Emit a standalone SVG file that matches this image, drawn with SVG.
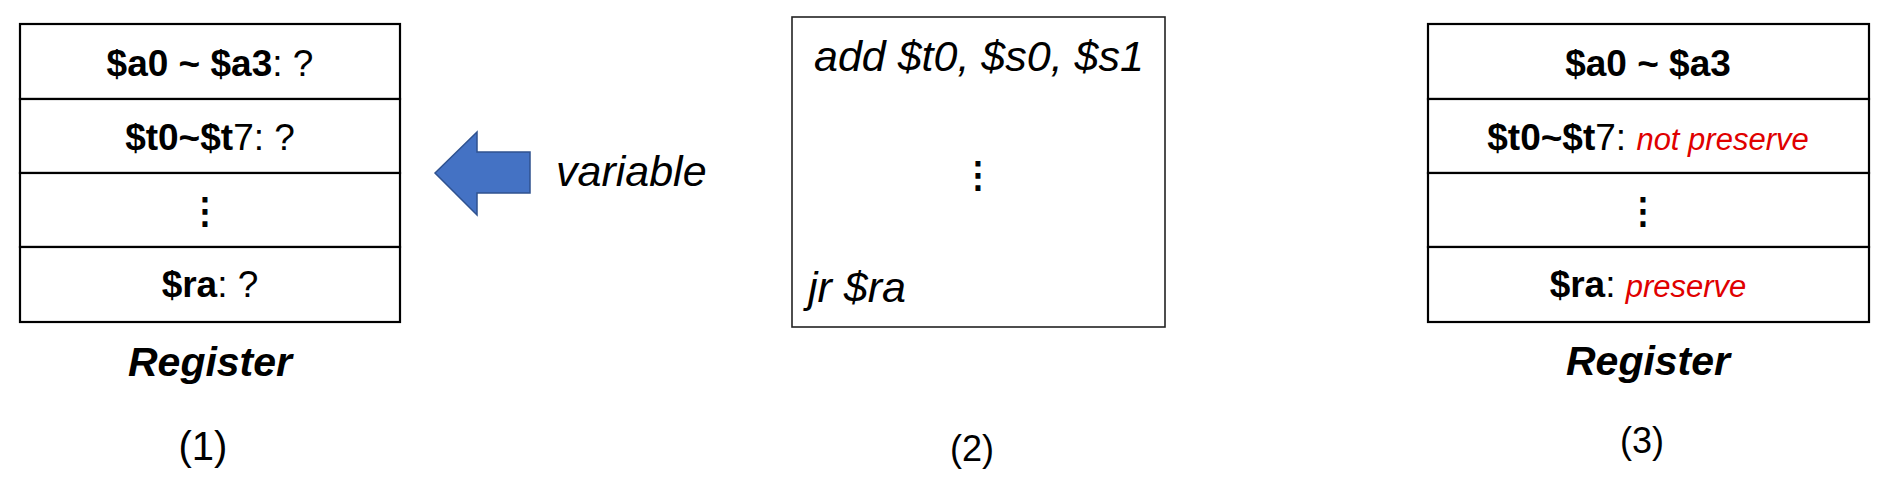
<svg xmlns="http://www.w3.org/2000/svg" width="1884" height="490" viewBox="0 0 1884 490">
<style>
text{font-family:"Liberation Sans",Arial,sans-serif;fill:#000}
.reg{font-size:37px;text-anchor:middle}
.b{font-weight:bold}
.red{fill:#e00000;font-style:italic;font-size:31px;font-weight:normal}
.cell{fill:#fff;stroke:#000;stroke-width:2.2}
.code{font-size:43px;font-style:italic}
.title{font-size:41px;font-weight:bold;font-style:italic;text-anchor:middle}
.num{text-anchor:middle}
.dots{font-family:"DejaVu Sans",sans-serif;font-size:36px;text-anchor:middle;stroke:#000;stroke-width:1.2}
</style>
<rect width="1884" height="490" fill="#fff"/>
<g id="register1">
<rect class="cell" x="20" y="24" width="380" height="75"/>
<rect class="cell" x="20" y="99" width="380" height="74"/>
<rect class="cell" x="20" y="173" width="380" height="74"/>
<rect class="cell" x="20" y="247" width="380" height="75"/>
<text class="reg" x="210" y="76"><tspan class="b">$a0 ~ $a3</tspan>: ?</text>
<text class="reg" x="210" y="150"><tspan class="b">$t0~$t</tspan>7: ?</text>
<text class="dots" x="205" y="223">⋮</text>
<text class="reg" x="210" y="297"><tspan class="b">$ra</tspan>: ?</text>
<text class="title" x="210" y="376">Register</text>
<text class="num" x="203" y="460" font-size="40">(1)</text>
</g>
<g id="connectors">
<polygon points="435,173 477,132 477,152 530,152 530,193 477,193 477,215" fill="#4472C4" stroke="#2F528F" stroke-width="1.5"/>
<text class="code" x="556" y="186">variable</text>
</g>
<g id="code">
<rect x="792" y="17" width="373" height="310" fill="#fff" stroke="#222" stroke-width="1.6"/>
<text class="code" x="814" y="71">add $t0, $s0, $s1</text>
<text class="dots" x="978" y="187">⋮</text>
<text class="code" x="808" y="302">jr $ra</text>
<text class="num" x="972" y="461" font-size="36">(2)</text>
</g>
<g id="register3">
<rect class="cell" x="1428" y="24" width="441" height="75"/>
<rect class="cell" x="1428" y="99" width="441" height="74"/>
<rect class="cell" x="1428" y="173" width="441" height="74"/>
<rect class="cell" x="1428" y="247" width="441" height="75"/>
<text class="reg b" x="1648" y="76">$a0 ~ $a3</text>
<text class="reg" x="1648" y="150"><tspan class="b">$t0~$t</tspan>7: <tspan class="red">not preserve</tspan></text>
<text class="dots" x="1643" y="223">⋮</text>
<text class="reg" x="1648" y="297"><tspan class="b">$ra</tspan>: <tspan class="red">preserve</tspan></text>
<text class="title" x="1648" y="375">Register</text>
<text class="num" x="1642" y="453" font-size="36">(3)</text>
</g>
</svg>
